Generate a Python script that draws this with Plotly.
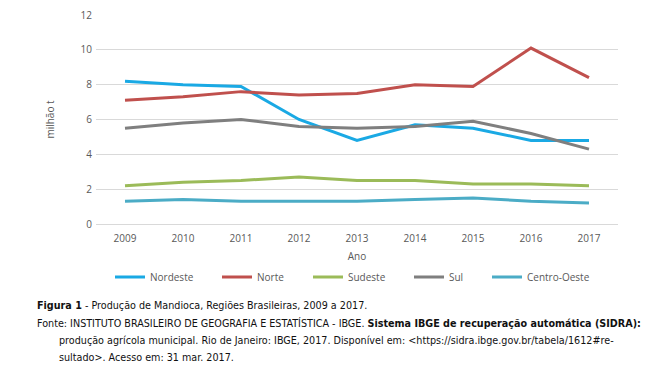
import plotly.graph_objects as go

anos = ["2009", "2010", "2011", "2012", "2013", "2014", "2015", "2016", "2017"]
nordeste = [8.2, 8.0, 7.9, 6.0, 4.8, 5.7, 5.5, 4.8, 4.8]
norte = [7.1, 7.3, 7.6, 7.4, 7.5, 8.0, 7.9, 10.1, 8.4]
sudeste = [2.2, 2.4, 2.5, 2.7, 2.5, 2.5, 2.3, 2.3, 2.2]
sul = [5.5, 5.8, 6.0, 5.6, 5.5, 5.6, 5.9, 5.2, 4.3]
centro_oeste = [1.3, 1.4, 1.3, 1.3, 1.3, 1.4, 1.5, 1.3, 1.2]
y_ticks = [0, 2, 4, 6, 8, 10, 12]

series = [
    ("Nordeste", nordeste, "#1aa9e4"),
    ("Norte", norte, "#c0504d"),
    ("Sudeste", sudeste, "#9bbb59"),
    ("Sul", sul, "#7f7f7f"),
    ("Centro-Oeste", centro_oeste, "#4bacc6"),
]

W, H = 653, 379
L, R, T, B = 96, 35, 15, 155
pw = W - L - R
ph = H - T - B

def px_x(x):
    return (x - L) / pw

def px_y(y):
    return (H - B - y) / ph

fig = go.Figure()
legend_names = ["legend", "legend2", "legend3", "legend4", "legend5"]
legend_line_start = [119, 226, 317, 418, 496]
for (name, vals, color), lg in zip(series, legend_names):
    fig.add_trace(go.Scatter(
        x=anos, y=vals, name=name, mode="lines",
        line=dict(color=color, width=3),
        legend=lg,
    ))

tick_font = dict(family="Open Sans", size=10, color="#595959")
layout_legends = {}
for lg, lx in zip(legend_names, legend_line_start):
    layout_legends[lg] = dict(
        xref="container", yref="container",
        x=(lx - 9) / W, xanchor="left", y=1 - 277 / H, yanchor="middle",
        orientation="h", font=tick_font, bgcolor="rgba(0,0,0,0)",
        itemwidth=30, tracegroupgap=0,
    )

fig.update_layout(
    width=W, height=H,
    margin=dict(l=L, r=R, t=T, b=B),
    paper_bgcolor="white", plot_bgcolor="white",
    showlegend=True,
    **layout_legends,
    xaxis=dict(
        type="category", range=[-0.5, 8.5], showgrid=False,
        showline=False, ticks="", tickfont=tick_font, automargin=False,
        ticklabelstandoff=7,
        title=dict(text="Ano", font=tick_font, standoff=8),
    ),
    yaxis=dict(
        range=[0, 12], tickvals=y_ticks, showgrid=True,
        gridcolor="#d9d9d9", gridwidth=1, zeroline=True,
        zerolinecolor="#d9d9d9", zerolinewidth=1, showline=False,
        ticks="", tickfont=tick_font, ticklabelstandoff=3, automargin=False,
        title=dict(text="milhão t", font=tick_font, standoff=24),
    ),
)

cap_font = dict(family="DejaVu Sans Condensed", size=10.7, color="#111111")
captions = [
    (35, 305, "<b>Figura 1</b> - Produção de Mandioca, Regiões Brasileiras, 2009 a 2017."),
    (35, 323, "Fonte: INSTITUTO BRASILEIRO DE GEOGRAFIA E ESTATÍSTICA - IBGE. <b>Sistema IBGE de recuperação automática (SIDRA):</b>"),
    (57, 340, "produção agrícola municipal. Rio de Janeiro: IBGE, 2017. Disponível em: &lt;https://sidra.ibge.gov.br/tabela/1612#re-"),
    (57, 357, "sultado&gt;. Acesso em: 31 mar. 2017."),
]
for cx, cy, txt in captions:
    fig.add_annotation(
        x=px_x(cx), y=px_y(cy), xref="paper", yref="paper",
        xanchor="left", yanchor="middle", text=txt, showarrow=False,
        font=cap_font, align="left",
    )

fig.write_html(
    "out.html",
    config={"displayModeBar": False},
    post_script="document.body.style.margin='0';document.body.style.overflow='hidden';",
)
